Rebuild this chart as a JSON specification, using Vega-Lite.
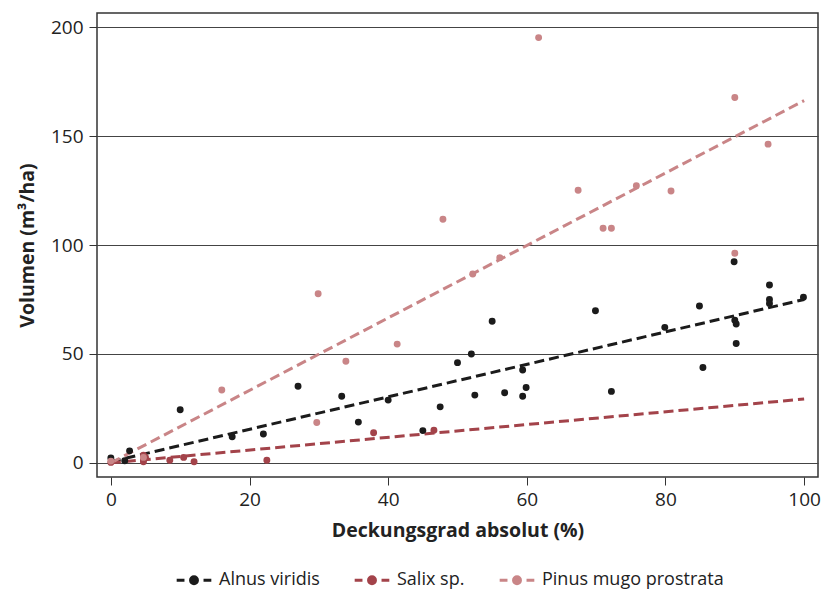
{
  "$schema": "https://vega.github.io/schema/vega-lite/v6.json",
  "width": 721,
  "height": 464,
  "autosize": {"type": "none"},
  "padding": {"left": 97, "top": 13, "right": 3, "bottom": 116},
  "background": "white",
  "config": {
    "font": "Open Sans",
    "view": {"stroke": "#333333", "strokeWidth": 1.5},
    "axis": {"labelFont": "Open Sans", "titleFont": "Open Sans", "labelColor": "#222222", "titleColor": "#222222"}
  },
  "datasets": {
    "pts": [
      {"art": "Alnus viridis", "x": 0, "y": 2.2},
      {"art": "Alnus viridis", "x": 2, "y": 1},
      {"art": "Alnus viridis", "x": 2.7, "y": 5.5},
      {"art": "Alnus viridis", "x": 10, "y": 24.4},
      {"art": "Alnus viridis", "x": 17.5, "y": 12},
      {"art": "Alnus viridis", "x": 22, "y": 13.2},
      {"art": "Alnus viridis", "x": 27, "y": 35.2},
      {"art": "Alnus viridis", "x": 33.3, "y": 30.6},
      {"art": "Alnus viridis", "x": 35.7, "y": 18.7},
      {"art": "Alnus viridis", "x": 40, "y": 28.8},
      {"art": "Alnus viridis", "x": 45, "y": 14.8},
      {"art": "Alnus viridis", "x": 47.5, "y": 25.7},
      {"art": "Alnus viridis", "x": 50, "y": 46},
      {"art": "Alnus viridis", "x": 52, "y": 50},
      {"art": "Alnus viridis", "x": 52.5, "y": 31.1},
      {"art": "Alnus viridis", "x": 55, "y": 65},
      {"art": "Alnus viridis", "x": 56.8, "y": 32.2},
      {"art": "Alnus viridis", "x": 59.4, "y": 30.6},
      {"art": "Alnus viridis", "x": 59.4, "y": 42.6},
      {"art": "Alnus viridis", "x": 59.9, "y": 34.6},
      {"art": "Alnus viridis", "x": 69.9, "y": 69.8},
      {"art": "Alnus viridis", "x": 72.2, "y": 32.8},
      {"art": "Alnus viridis", "x": 79.9, "y": 62.2},
      {"art": "Alnus viridis", "x": 84.9, "y": 72},
      {"art": "Alnus viridis", "x": 85.4, "y": 43.8},
      {"art": "Alnus viridis", "x": 89.9, "y": 92.3},
      {"art": "Alnus viridis", "x": 90, "y": 65.5},
      {"art": "Alnus viridis", "x": 90.2, "y": 63.7},
      {"art": "Alnus viridis", "x": 90.2, "y": 54.8},
      {"art": "Alnus viridis", "x": 95, "y": 81.6},
      {"art": "Alnus viridis", "x": 95, "y": 75},
      {"art": "Alnus viridis", "x": 95, "y": 73.2},
      {"art": "Alnus viridis", "x": 99.9, "y": 76},
      {"art": "Salix sp.", "x": 0, "y": 0.2},
      {"art": "Salix sp.", "x": 4.7, "y": 0.5},
      {"art": "Salix sp.", "x": 4.7, "y": 1.5},
      {"art": "Salix sp.", "x": 4.7, "y": 3.5},
      {"art": "Salix sp.", "x": 5, "y": 2.5},
      {"art": "Salix sp.", "x": 8.5, "y": 1.2},
      {"art": "Salix sp.", "x": 10.5, "y": 2.5},
      {"art": "Salix sp.", "x": 12, "y": 0.5},
      {"art": "Salix sp.", "x": 22.5, "y": 1.2},
      {"art": "Salix sp.", "x": 37.9, "y": 13.8},
      {"art": "Salix sp.", "x": 46.6, "y": 15},
      {"art": "Pinus mugo prostrata", "x": 0, "y": 0.8},
      {"art": "Pinus mugo prostrata", "x": 4.7, "y": 2.5},
      {"art": "Pinus mugo prostrata", "x": 16, "y": 33.4},
      {"art": "Pinus mugo prostrata", "x": 29.7, "y": 18.5},
      {"art": "Pinus mugo prostrata", "x": 29.9, "y": 77.6},
      {"art": "Pinus mugo prostrata", "x": 33.9, "y": 46.6},
      {"art": "Pinus mugo prostrata", "x": 41.3, "y": 54.5},
      {"art": "Pinus mugo prostrata", "x": 47.9, "y": 111.8},
      {"art": "Pinus mugo prostrata", "x": 52.2, "y": 86.7},
      {"art": "Pinus mugo prostrata", "x": 56.1, "y": 94.2},
      {"art": "Pinus mugo prostrata", "x": 61.7, "y": 195.2},
      {"art": "Pinus mugo prostrata", "x": 67.4, "y": 125.1},
      {"art": "Pinus mugo prostrata", "x": 71, "y": 107.7},
      {"art": "Pinus mugo prostrata", "x": 72.2, "y": 107.7},
      {"art": "Pinus mugo prostrata", "x": 75.8, "y": 127.2},
      {"art": "Pinus mugo prostrata", "x": 80.8, "y": 124.8},
      {"art": "Pinus mugo prostrata", "x": 90, "y": 167.7},
      {"art": "Pinus mugo prostrata", "x": 90, "y": 96.2},
      {"art": "Pinus mugo prostrata", "x": 94.8, "y": 146.3}
    ],
    "fits": [
      {"art": "Alnus viridis", "x": 0, "y": 0.5},
      {"art": "Alnus viridis", "x": 100, "y": 75},
      {"art": "Salix sp.", "x": 0, "y": 0},
      {"art": "Salix sp.", "x": 100, "y": 29.3},
      {"art": "Pinus mugo prostrata", "x": 0, "y": 0},
      {"art": "Pinus mugo prostrata", "x": 100, "y": 166.3}
    ]
  },
  "encoding": {
    "x": {
      "field": "x", "type": "quantitative",
      "scale": {"domain": [-2, 102], "nice": false, "zero": false},
      "axis": {
        "title": "Deckungsgrad absolut (%)", "values": [0, 20, 40, 60, 80, 100],
        "grid": false, "domain": false, "tickSize": 8, "tickColor": "#333333", "tickWidth": 1,
        "labelFontSize": 19, "labelPadding": 5, "titleFontSize": 19.5, "titleFontWeight": "bold", "titlePadding": 12
      }
    },
    "y": {
      "field": "y", "type": "quantitative",
      "scale": {"domain": [-6.5, 206.5], "nice": false, "zero": false},
      "axis": {
        "title": "Volumen (m³/ha)", "values": [0, 50, 100, 150, 200],
        "grid": true, "gridColor": "#444444", "gridWidth": 1, "gridOpacity": 1,
        "domain": false, "tickSize": 8, "tickColor": "#333333", "tickWidth": 1,
        "labelFontSize": 19, "labelPadding": 6, "titleFontSize": 19.5, "titleFontWeight": "bold", "titlePadding": 13
      }
    },
    "color": {
      "field": "art", "type": "nominal",
      "scale": {"domain": ["Alnus viridis", "Salix sp.", "Pinus mugo prostrata"], "range": ["#1b1b1b", "#a3434a", "#c98587"]},
      "legend": {
        "title": null, "orient": "none", "legendX": 78, "legendY": 548, "direction": "horizontal",
        "symbolType": "M-1,0H-0.55M0.55,0H1M-0.2,0A0.2,0.2 0 1,0 0.2,0A0.2,0.2 0 1,0 -0.2,0Z",
        "symbolSize": 1200, "symbolStrokeWidth": 3, "symbolOpacity": 1,
        "labelFontSize": 18, "labelFont": "Open Sans", "labelColor": "#222222", "labelOffset": 6, "labelLimit": 400,
        "columnPadding": 28,
        "encode": {"symbols": {"update": {"stroke": {"scale": "color", "field": "value"}, "fill": {"scale": "color", "field": "value"}, "strokeWidth": {"value": 3}, "opacity": {"value": 1}}}}
      }
    }
  },
  "layer": [
    {
      "data": {"name": "fits"},
      "mark": {"type": "line", "strokeWidth": 3, "strokeDash": [10, 5], "clip": true},
      "encoding": {"detail": {"field": "art"}}
    },
    {
      "data": {"name": "pts"},
      "mark": {"type": "point", "filled": true, "size": 48, "opacity": 1}
    }
  ]
}
